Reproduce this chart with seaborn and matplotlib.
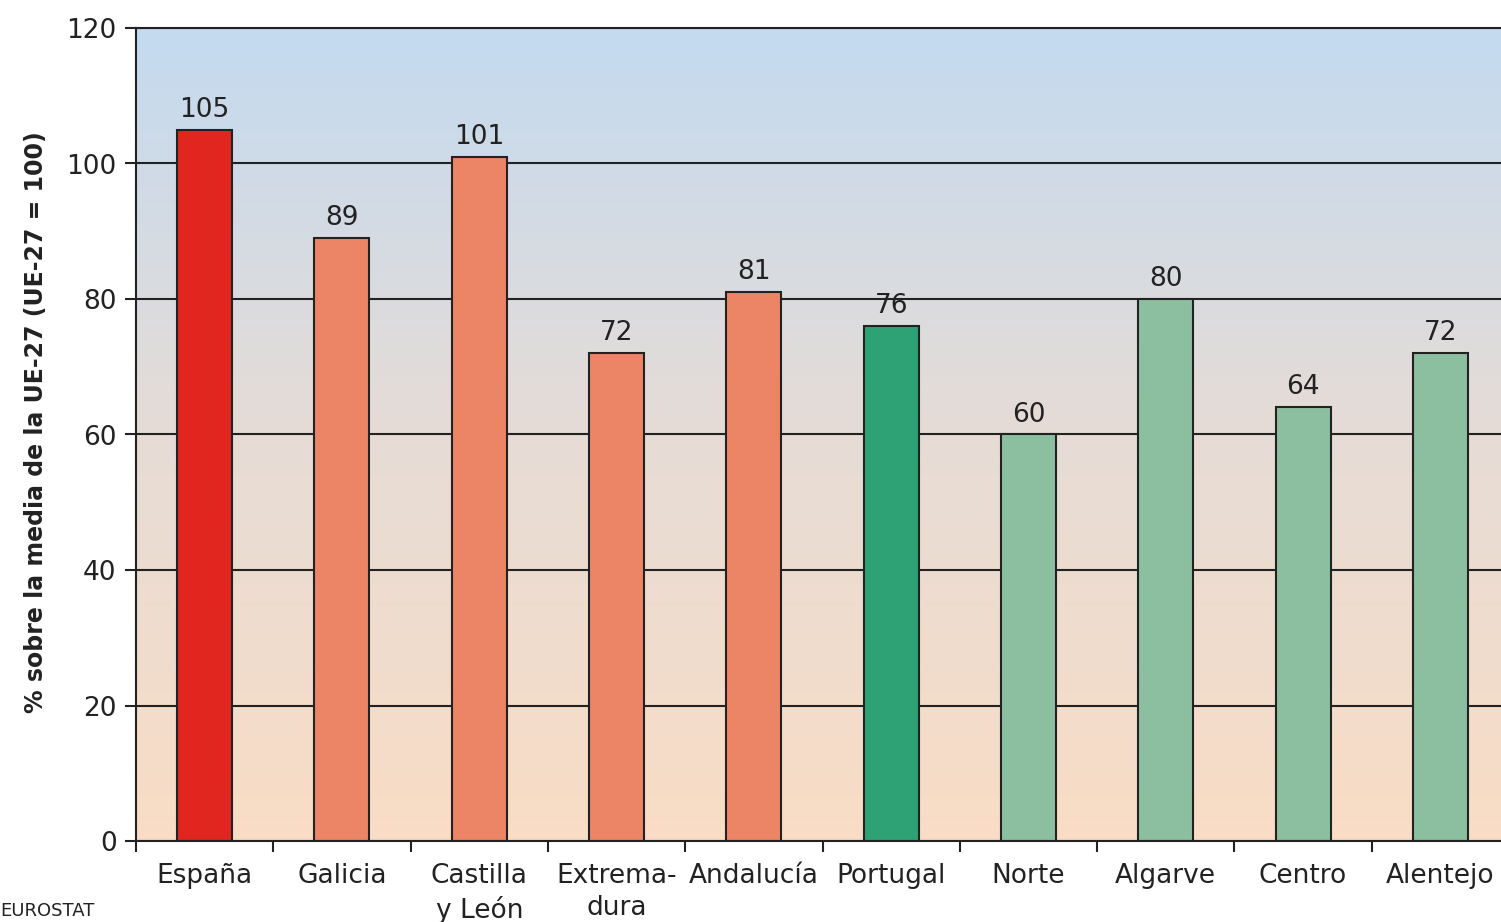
import numpy as np
import pandas as pd
import seaborn as sns
import matplotlib.pyplot as plt
from matplotlib.colors import LinearSegmentedColormap

# data
regions = ["España", "Galicia", "Castilla\ny León", "Extrema-\ndura", "Andalucía",
           "Portugal", "Norte", "Algarve", "Centro", "Alentejo"]
values = [105, 89, 101, 72, 81, 76, 60, 80, 64, 72]
bar_colors = ["#e0261f", "#ec8466", "#ec8466", "#ec8466", "#ec8466",
              "#2ea274", "#8bbf9f", "#8bbf9f", "#8bbf9f", "#8bbf9f"]
y_ticks = [0, 20, 40, 60, 80, 100, 120]
ylabel = "% sobre la media de la UE-27 (UE-27 = 100)"
source = "EUROSTAT"

df = pd.DataFrame({"region": regions, "value": values})

sns.set_style("white")
plt.rcParams["font.family"] = ["DejaVu Sans"]

fig = plt.figure(figsize=(15.01, 9.22), dpi=100)
ax = fig.add_axes([136 / 1501, 81 / 922, (1509 - 136) / 1501, (841 - 28) / 922])

# background gradient (blue at top to peach at bottom)
cmap = LinearSegmentedColormap.from_list("bg", ["#f9dcc5", "#e6dcd6", "#c3daf0"])
grad = np.linspace(0, 1, 256).reshape(-1, 1)
ax.imshow(grad, extent=(-0.5, 9.5, 0, 120), origin="lower", aspect="auto",
          cmap=cmap, zorder=0)

sns.barplot(data=df, x="region", y="value", hue="region", palette=bar_colors,
            width=0.4, edgecolor="#222222", linewidth=1.5, legend=False,
            ax=ax, zorder=2, saturation=1)

for c in ax.containers:
    ax.bar_label(c, padding=5, fontsize=19, color="#222222")

ax.set_xlim(-0.5, 9.5)
ax.set_ylim(0, 120)
ax.set_yticks(y_ticks)
ax.set_yticklabels([str(t) for t in y_ticks], fontsize=19, color="#222222")
ax.tick_params(axis="y", length=8, width=1.5, color="#222222", pad=6, left=True)
ax.set_xticks(range(len(regions)))
ax.set_xticklabels(regions, fontsize=19, color="#222222", linespacing=1.3)
ax.tick_params(axis="x", length=0, pad=16)
ax.set_xticks(np.arange(-0.5, 10, 1), minor=True)
ax.tick_params(axis="x", which="minor", length=8, width=1.5, color="#222222", bottom=True)

ax.yaxis.grid(True, color="#222222", linewidth=1.5, zorder=1)
ax.set_axisbelow(True)
for s in ["left", "top", "bottom"]:
    ax.spines[s].set_color("#222222")
    ax.spines[s].set_linewidth(1.5)
ax.spines["right"].set_visible(False)

ax.set_xlabel("")
ax.set_ylabel(ylabel, fontsize=17, fontweight="bold", color="#222222")
ax.yaxis.set_label_coords(-0.064, 0.515)

fig.text(0.0, 0.002, source, fontsize=13, color="#222222", va="bottom", ha="left")

fig.savefig("out.png", dpi=100)
